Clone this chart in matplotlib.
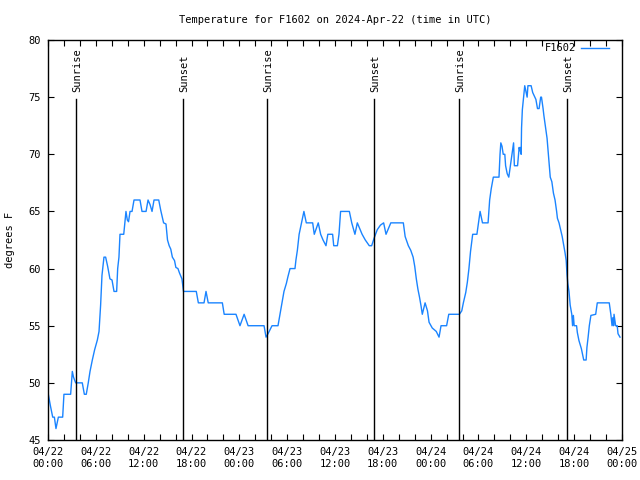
import matplotlib
matplotlib.use("Agg")
import matplotlib.pyplot as plt
import numpy as np

# hours since 2024-04-22 00:00 UTC, temperature in F
hours = [
    0.04, 0.3, 0.59, 0.8, 1.0, 1.3, 1.84, 2.0, 2.84, 3.05, 3.2, 3.47, 4.3, 4.56, 4.8,
    5.05, 5.27, 5.56, 5.85, 6.19, 6.4, 6.6, 6.77, 7.02, 7.23, 7.48, 7.77, 8.03, 8.28,
    8.61, 8.74, 8.9, 9.03, 9.5, 9.78, 9.95, 10.1, 10.29, 10.54, 10.79, 11.54, 11.79,
    12.3, 12.55, 12.8, 13.05, 13.3, 13.89, 14.14, 14.5, 14.8, 14.99, 15.2, 15.4, 15.6,
    15.87, 16.04, 16.3, 16.5, 16.8, 17.0, 18.6, 18.86, 19.57, 19.82, 20.1, 21.87, 22.1,
    23.58, 24.08, 24.6, 25.1, 27.1, 27.35, 27.6, 28.1, 28.85, 29.1, 29.35, 29.6, 29.9,
    30.1, 30.36, 30.98, 31.1, 31.28, 31.5, 31.8, 32.1, 32.4, 33.2, 33.4, 33.9, 34.2,
    34.5, 34.87, 35.1, 35.7, 35.84, 36.3, 36.5, 36.7, 37.8, 38.1, 38.5, 38.8, 39.1,
    39.4, 39.8, 40.3, 40.6, 40.9, 41.3, 41.7, 42.1, 42.4, 42.7, 43.0, 44.57, 44.8,
    45.2, 45.5, 45.8, 46.0, 46.2, 46.4, 46.6, 46.8, 46.95, 47.3, 47.6, 47.8, 48.2,
    48.7, 49.05, 49.3, 50.0, 50.27, 51.6, 51.9, 52.1, 52.4, 52.6, 52.8, 53.0, 53.27,
    53.8, 54.0, 54.2, 54.5, 55.2, 55.4, 55.6, 55.86, 56.57, 56.7, 56.8, 56.95, 57.1,
    57.3, 57.4, 57.6, 57.8, 58.0, 58.2, 58.4, 58.5, 58.9, 59.1, 59.2, 59.3, 59.35,
    59.4, 59.5, 59.8, 59.95, 60.1, 60.2, 60.6, 60.8, 61.2, 61.4, 61.6, 61.8, 61.9,
    62.1, 62.2, 62.4, 62.6, 62.9, 63.0, 63.2, 63.4, 63.6, 63.8, 63.9, 64.1, 64.3,
    64.5, 64.7, 64.85, 65.0, 65.1, 65.2, 65.35, 65.5, 65.7, 65.8, 65.9, 66.0, 66.3,
    66.4, 66.6, 66.9, 67.2, 67.5, 67.6, 67.75, 67.9, 68.1, 68.7, 68.9, 70.4, 70.6,
    70.75, 70.85, 70.95, 71.0, 71.2, 71.4, 71.5, 71.75,
]
temps = [
    49, 48, 47, 47, 46, 47, 47, 49, 49, 51, 50.5, 50, 50, 49, 49,
    50, 51, 52, 52.9, 53.75, 54.5, 56.8, 59.4, 61, 61, 60.2, 59.1, 59, 58,
    58, 60, 61, 63, 63, 65, 64.25, 64.1, 65, 65, 66, 66, 65,
    65, 66, 65.6, 65, 66, 66, 65.1, 64, 63.9, 62.5, 62, 61.7, 61,
    60.7, 60.1, 60, 59.6, 59.1, 58, 58, 57, 57, 58, 57, 57, 56,
    56, 55, 56, 55, 55, 54, 54.3, 55, 55, 56, 57, 58, 58.7,
    59.3, 60, 60, 60.75, 61.6, 63, 64, 65, 64, 64, 63, 64, 63,
    62.5, 62, 63, 63, 62, 62, 63, 65, 65, 64, 63, 64, 63.5,
    63, 62.5, 62, 62, 62.65, 63.4, 63.8, 64, 63, 63.5, 64, 64, 62.8,
    62, 61.6, 61, 60.2, 59.1, 58.2, 57.5, 56.7, 56, 57, 56.3, 55.3, 54.8,
    54.5, 54, 55, 55, 56, 56, 56.3, 57, 57.9, 58.8, 60, 61.5, 63,
    63, 64, 65, 64, 64, 66, 67, 68, 68, 70, 71, 70.7, 70,
    70, 69, 68.3, 68, 69, 70, 71, 69, 69, 70.6, 70.3, 70.6, 70,
    72.3, 73.9, 76, 75.5, 75, 76, 76, 75.4, 74.8, 74, 74, 75, 75,
    74, 73.4, 72.4, 71.4, 68.9, 68, 67.6, 66.6, 66, 65, 64.4, 64, 63.4,
    62.8, 62, 61.4, 60.7, 59.5, 58.7, 58, 56.8, 56, 55, 55.9, 55, 55,
    54.4, 53.7, 53, 52, 52, 53.1, 54, 55, 55.9, 56, 57, 57, 56,
    55, 55.7, 55, 56, 55, 55, 54.3, 54,
]

sun_hours = [3.55, 16.9, 27.51, 40.94, 51.6, 65.06]
sun_labels = ["Sunrise", "Sunset", "Sunrise", "Sunset", "Sunrise", "Sunset"]

xtick_hours = list(range(0, 73, 6))
xtick_labels = ["04/22\n00:00", "04/22\n06:00", "04/22\n12:00", "04/22\n18:00",
                "04/23\n00:00", "04/23\n06:00", "04/23\n12:00", "04/23\n18:00",
                "04/24\n00:00", "04/24\n06:00", "04/24\n12:00", "04/24\n18:00",
                "04/25\n00:00"]

plt.rcParams["font.family"] = "DejaVu Sans Mono"

fig = plt.figure(figsize=(6.4, 4.8), dpi=100)
ax = fig.add_axes([48 / 640, 40 / 480, 574 / 640, 400 / 480])

ax.plot(hours, temps, color="#1a84ff", linewidth=1.0, label="F1602")

for h, lab in zip(sun_hours, sun_labels):
    ax.plot([h, h], [45, 74.8], color="black", linewidth=1.0)
    ax.text(h + 0.15, 75.45, lab, rotation=90, ha="center", va="bottom", fontsize=7.5)

ax.set_xlim(0, 72)
ax.set_ylim(45, 80)
ax.set_xticks(xtick_hours)
ax.set_xticklabels(xtick_labels, fontsize=7.5, linespacing=1.25)
ax.set_xticks(np.arange(0, 73, 2), minor=True)
ax.set_yticks(np.arange(45, 81, 5))
ax.tick_params(axis="both", direction="in", length=4, width=0.8, top=True, right=True,
               labelsize=7.5, pad=5)
ax.tick_params(axis="x", which="minor", direction="in", length=4, width=0.8, top=True)
for spine in ax.spines.values():
    spine.set_linewidth(1.0)

ax.set_ylabel("degrees F", fontsize=7.5, labelpad=10)
ax.set_title("Temperature for F1602 on 2024-Apr-22 (time in UTC)", fontsize=7.5, pad=12.5)

ax.legend(loc="upper right", bbox_to_anchor=(0.988, 1.007), frameon=False, fontsize=7.5,
          markerfirst=False, handlelength=2.7, handletextpad=0.45, borderaxespad=0.2)

fig.savefig("out.png", dpi=100, facecolor="white")
